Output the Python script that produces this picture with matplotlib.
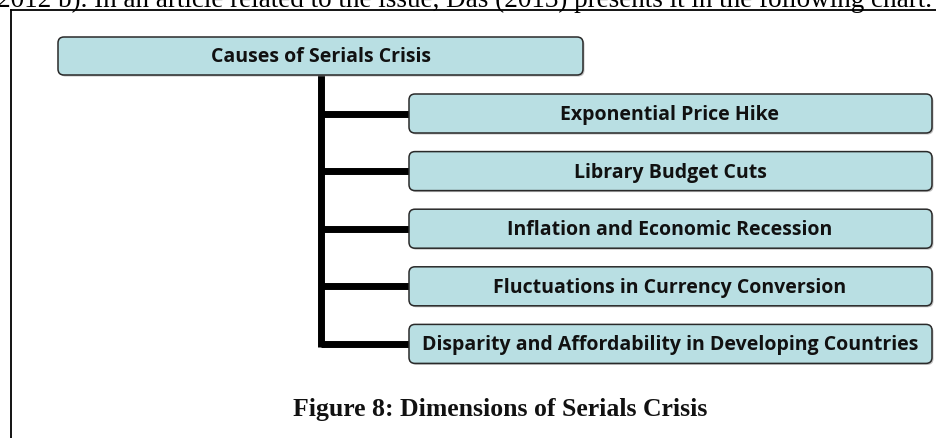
#!/usr/bin/env python3
# -*- coding: utf-8 -*-
"""Tree chart: causes of serials crisis (Das 2013, figure 8)."""
import matplotlib
matplotlib.use("Agg")
import matplotlib.pyplot as plt
from matplotlib.patches import FancyBboxPatch

# === DATA ===
root_label = "Causes of Serials Crisis"
causes = [
    "Exponential Price Hike",
    "Library Budget Cuts",
    "Inflation and Economic Recession",
    "Fluctuations in Currency Conversion",
    "Disparity and Affordability in Developing Countries",
]
caption = "Figure 8: Dimensions of Serials Crisis"
running_text = ("2012 b). In an article related to the issue, Das (2013) "
                "presents it in the following chart.")

W, H = 936, 439
FILL = "#b9dfe3"
EDGE = "#2a2a2a"
LABEL_FONT = ["Open Sans", "DejaVu Sans"]


def draw_box(ax, x0, y0, x1, y1, text, tx):
    # soft shadow first, then the box itself
    sh = FancyBboxPatch((x0 + 1.5, y0 + 1.5), x1 - x0, y1 - y0,
                        boxstyle="round,pad=0,rounding_size=6",
                        fc="#9a9a9a", ec="none", alpha=0.6, zorder=2)
    ax.add_patch(sh)
    box = FancyBboxPatch((x0, y0), x1 - x0, y1 - y0,
                         boxstyle="round,pad=0,rounding_size=6",
                         fc=FILL, ec=EDGE, lw=1.1, zorder=3)
    ax.add_patch(box)
    ax.text(tx, (y0 + y1) / 2 + 0.5, text, ha="center", va="center",
            fontsize=14.0, fontweight="bold", family=LABEL_FONT,
            color="#111111", zorder=4)


def main():
    fig = plt.figure(figsize=(W / 100, H / 100), dpi=100)
    ax = fig.add_axes([0, 0, 1, 1])
    ax.set_xlim(0, W)
    ax.set_ylim(H, 0)
    ax.axis("off")

    # page text, cut off by the top edge like in the source scan
    ax.text(-3, 7, running_text, ha="left", va="baseline", fontsize=19.5,
            family="Liberation Serif", color="black", zorder=5)

    # frame around the figure
    ax.plot([11, 11], [H + 5, 11], color="black", lw=1.3, zorder=1,
            solid_capstyle="projecting")
    ax.plot([11, W + 5], [11, 11], color="black", lw=1.3, zorder=1)

    # root box
    draw_box(ax, 58, 38, 583, 76, root_label, 321)

    # child boxes and connectors
    trunk_x = 321
    top0, step, bh = 95, 57.6, 39
    centres = []
    for i, lab in enumerate(causes):
        y0 = top0 + i * step
        yc = y0 + bh / 2
        centres.append(yc)
        ax.plot([trunk_x, 410], [yc, yc], color="black", lw=5.0, zorder=1,
                solid_capstyle="butt")
        draw_box(ax, 409, y0, 932, y0 + bh, lab, 670)
    ax.plot([trunk_x, trunk_x], [76, centres[-1] + 3.5], color="black", lw=5.0,
            zorder=1, solid_capstyle="butt")

    # caption
    ax.text(500, 410, caption, ha="center", va="center", fontsize=18.5,
            fontweight="bold", family="Liberation Serif", color="#111111")

    fig.savefig("out.png", dpi=100)
    plt.close(fig)


if __name__ == "__main__":
    main()
